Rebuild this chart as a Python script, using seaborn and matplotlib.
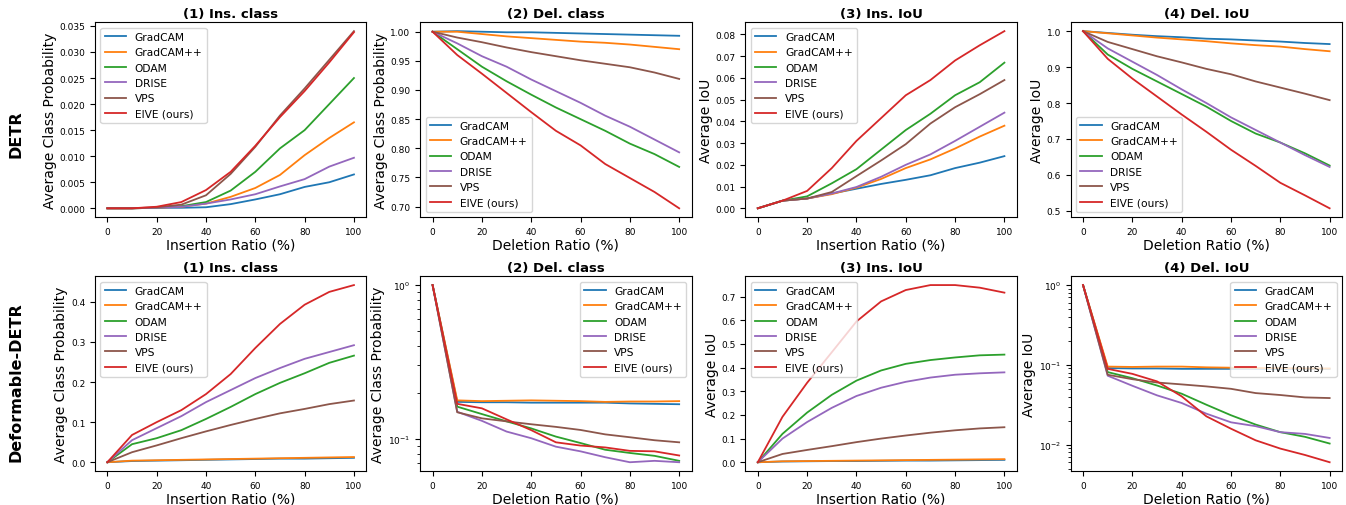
import numpy as np
import pandas as pd
import matplotlib
matplotlib.use("Agg")
import matplotlib.pyplot as plt
from matplotlib.ticker import MultipleLocator
import seaborn as sns

# x axis: insertion / deletion ratio in %
ratios = [0, 10, 20, 30, 40, 50, 60, 70, 80, 90, 100]
methods = ["GradCAM", "GradCAM++", "ODAM", "DRISE", "VPS", "EIVE (ours)"]
method_colors = ["tab:blue", "tab:orange", "tab:green", "tab:purple", "tab:brown", "tab:red"]

# DETR, one row per method (same order as methods)
detr_ins_class = [
    [0, 0, 0.0001, 0.0001, 0.0002, 0.0008, 0.0017, 0.0027, 0.0041, 0.0050, 0.0065],
    [0, 0, 0.0001, 0.0003, 0.0009, 0.0022, 0.0039, 0.0064, 0.0102, 0.0135, 0.0165],
    [0, 0, 0.0001, 0.0004, 0.0012, 0.0034, 0.0070, 0.0115, 0.0150, 0.0200, 0.0250],
    [0, 0, 0.0001, 0.0003, 0.0009, 0.0017, 0.0027, 0.0042, 0.0056, 0.0080, 0.0097],
    [0, 0, 0.0002, 0.0007, 0.0025, 0.0066, 0.0118, 0.0178, 0.0230, 0.0285, 0.0340],
    [0, 0, 0.0003, 0.0012, 0.0035, 0.0070, 0.0120, 0.0175, 0.0225, 0.0280, 0.0338],
]
detr_del_class = [
    [1.0, 1.001, 1.0, 0.999, 0.999, 0.998, 0.997, 0.996, 0.995, 0.994, 0.993],
    [1.0, 1.0, 0.996, 0.992, 0.989, 0.986, 0.983, 0.981, 0.978, 0.974, 0.970],
    [1.0, 0.970, 0.940, 0.915, 0.892, 0.870, 0.850, 0.830, 0.808, 0.790, 0.768],
    [1.0, 0.980, 0.958, 0.940, 0.918, 0.898, 0.878, 0.856, 0.837, 0.815, 0.793],
    [1.0, 0.990, 0.982, 0.973, 0.965, 0.958, 0.951, 0.945, 0.939, 0.930, 0.919],
    [1.0, 0.960, 0.928, 0.895, 0.862, 0.830, 0.805, 0.773, 0.749, 0.725, 0.697],
]
detr_ins_iou = [
    [0, 0.0035, 0.0045, 0.0068, 0.0090, 0.0112, 0.0131, 0.0152, 0.0185, 0.0210, 0.0240],
    [0, 0.0035, 0.0045, 0.0065, 0.0095, 0.0135, 0.0185, 0.0225, 0.0275, 0.0330, 0.0380],
    [0, 0.0035, 0.0055, 0.0115, 0.0180, 0.0270, 0.0360, 0.0435, 0.0520, 0.0580, 0.0670],
    [0, 0.0035, 0.0045, 0.0068, 0.0098, 0.0145, 0.0200, 0.0248, 0.0310, 0.0375, 0.0440],
    [0, 0.0035, 0.0045, 0.0075, 0.0148, 0.0220, 0.0295, 0.0390, 0.0465, 0.0525, 0.0590],
    [0, 0.0035, 0.0080, 0.0185, 0.0310, 0.0415, 0.0520, 0.0590, 0.0680, 0.0750, 0.0815],
]
detr_del_iou = [
    [1.0, 0.995, 0.990, 0.986, 0.983, 0.979, 0.977, 0.974, 0.971, 0.967, 0.964],
    [1.0, 0.994, 0.988, 0.982, 0.977, 0.972, 0.966, 0.961, 0.957, 0.950, 0.944],
    [1.0, 0.935, 0.895, 0.860, 0.825, 0.790, 0.750, 0.715, 0.690, 0.660, 0.626],
    [1.0, 0.952, 0.915, 0.878, 0.838, 0.800, 0.760, 0.725, 0.690, 0.655, 0.622],
    [1.0, 0.970, 0.950, 0.930, 0.913, 0.895, 0.880, 0.860, 0.843, 0.826, 0.808],
    [1.0, 0.923, 0.868, 0.818, 0.768, 0.720, 0.670, 0.625, 0.578, 0.543, 0.507],
]

# Deformable-DETR
ddetr_ins_class = [
    [0, 0.003, 0.004, 0.005, 0.006, 0.007, 0.008, 0.009, 0.009, 0.010, 0.011],
    [0, 0.004, 0.005, 0.006, 0.007, 0.008, 0.009, 0.010, 0.011, 0.012, 0.013],
    [0, 0.045, 0.060, 0.080, 0.108, 0.138, 0.170, 0.198, 0.222, 0.248, 0.266],
    [0, 0.055, 0.085, 0.115, 0.150, 0.180, 0.210, 0.235, 0.258, 0.275, 0.292],
    [0, 0.025, 0.042, 0.060, 0.077, 0.093, 0.108, 0.122, 0.133, 0.145, 0.154],
    [0, 0.068, 0.100, 0.130, 0.170, 0.220, 0.285, 0.345, 0.393, 0.425, 0.442],
]
ddetr_del_class = [
    [1.0, 0.174, 0.173, 0.173, 0.172, 0.172, 0.172, 0.172, 0.170, 0.169, 0.168],
    [1.0, 0.178, 0.176, 0.177, 0.178, 0.177, 0.176, 0.174, 0.175, 0.175, 0.176],
    [1.0, 0.162, 0.145, 0.130, 0.117, 0.1035, 0.094, 0.085, 0.081, 0.0776, 0.072],
    [1.0, 0.150, 0.131, 0.1116, 0.101, 0.089, 0.083, 0.076, 0.0705, 0.072, 0.0705],
    [1.0, 0.149, 0.136, 0.130, 0.1245, 0.1197, 0.1143, 0.107, 0.1025, 0.098, 0.095],
    [1.0, 0.169, 0.158, 0.134, 0.114, 0.095, 0.0905, 0.088, 0.0836, 0.083, 0.078],
]
ddetr_ins_iou = [
    [0, 0.003, 0.004, 0.005, 0.005, 0.006, 0.007, 0.007, 0.008, 0.009, 0.010],
    [0, 0.004, 0.005, 0.006, 0.007, 0.008, 0.009, 0.010, 0.011, 0.012, 0.013],
    [0, 0.120, 0.210, 0.285, 0.345, 0.388, 0.416, 0.432, 0.443, 0.452, 0.455],
    [0, 0.100, 0.170, 0.230, 0.280, 0.315, 0.340, 0.358, 0.370, 0.376, 0.380],
    [0, 0.035, 0.052, 0.068, 0.085, 0.100, 0.113, 0.125, 0.135, 0.143, 0.148],
    [0, 0.192, 0.336, 0.465, 0.595, 0.680, 0.728, 0.749, 0.749, 0.738, 0.717],
]
ddetr_del_iou = [
    [1.0, 0.091, 0.090, 0.090, 0.089, 0.089, 0.089, 0.089, 0.089, 0.089, 0.089],
    [1.0, 0.095, 0.094, 0.095, 0.095, 0.093, 0.092, 0.091, 0.091, 0.090, 0.090],
    [1.0, 0.081, 0.068, 0.055, 0.0434, 0.0316, 0.0233, 0.0178, 0.0143, 0.0125, 0.0103],
    [1.0, 0.073, 0.0546, 0.0414, 0.0332, 0.0244, 0.019, 0.017, 0.0143, 0.0136, 0.0121],
    [1.0, 0.075, 0.066, 0.060, 0.0568, 0.0536, 0.050, 0.0442, 0.0418, 0.039, 0.0383],
    [1.0, 0.089, 0.077, 0.062, 0.0402, 0.0226, 0.0158, 0.0113, 0.0089, 0.0074, 0.006],
]

titles = ["(1) Ins. class", "(2) Del. class", "(3) Ins. IoU", "(4) Del. IoU"]
xlabels = ["Insertion Ratio (%)", "Deletion Ratio (%)", "Insertion Ratio (%)", "Deletion Ratio (%)"]
ylabels = ["Average Class Probability", "Average Class Probability", "Average IoU", "Average IoU"]
row_names = ["DETR", "Deformable-DETR"]


def to_long(values):
    rows = []
    for m, ys in zip(methods, values):
        for x, y in zip(ratios, ys):
            rows.append({"ratio": x, "value": y, "method": m})
    return pd.DataFrame(rows)


panels = [
    [detr_ins_class, detr_del_class, detr_ins_iou, detr_del_iou],
    [ddetr_ins_class, ddetr_del_class, ddetr_ins_iou, ddetr_del_iou],
]
log_y = [[False] * 4, [False, True, False, True]]
legend_loc = [
    ["upper left", "lower left", "upper left", "lower left"],
    ["upper left", "upper right", "upper left", "upper right"],
]
y_step = [[0.005, 0.05, 0.01, 0.1], [0.1, None, 0.1, None]]

fig, axes = plt.subplots(2, 4, figsize=(13.46, 5.06), dpi=100)
fig.subplots_adjust(left=0.0706, right=0.997, top=0.954, bottom=0.067,
                    wspace=0.199, hspace=0.303)

palette = dict(zip(methods, method_colors))

for r in range(2):
    for c in range(4):
        ax = axes[r, c]
        df = to_long(panels[r][c])
        sns.lineplot(data=df, x="ratio", y="value", hue="method", palette=palette,
                     hue_order=methods, linewidth=1.3, ax=ax, errorbar=None)
        if log_y[r][c]:
            ax.set_yscale("log")
        elif y_step[r][c]:
            ax.yaxis.set_major_locator(MultipleLocator(y_step[r][c]))
        ax.xaxis.set_major_locator(MultipleLocator(20))
        ax.set_title(titles[c], fontsize=9.5, fontweight="bold", pad=4)
        ax.set_xlabel(xlabels[c], fontsize=10, labelpad=1)
        ax.set_ylabel(ylabels[c], fontsize=10, labelpad=2)
        ax.tick_params(labelsize=6.5)
        ax.legend(loc=legend_loc[r][c], fontsize=7.7, handlelength=2.0)

fig.text(0.012, 0.735, row_names[0], rotation=90, fontsize=11.5, fontweight="bold",
         ha="center", va="center")
fig.text(0.012, 0.245, row_names[1], rotation=90, fontsize=11.5, fontweight="bold",
         ha="center", va="center")

fig.savefig("out.png", dpi=100)
